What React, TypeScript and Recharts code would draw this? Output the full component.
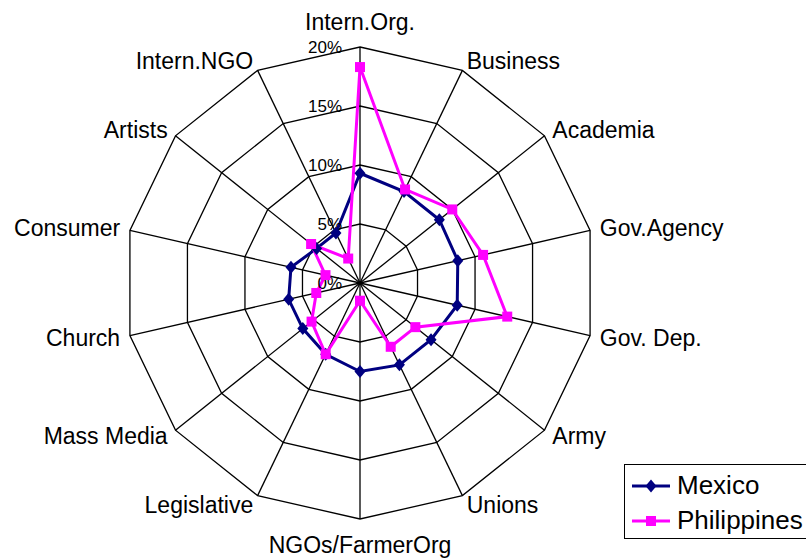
import { Legend, PolarAngleAxis, PolarGrid, PolarRadiusAxis, Radar, RadarChart } from 'recharts';

const categories = [
	'Intern.Org.',
	'Business',
	'Academia',
	'Gov.Agency',
	'Gov. Dep.',
	'Army',
	'Unions',
	'NGOs/FarmerOrg',
	'Legislative',
	'Mass Media',
	'Church',
	'Consumer',
	'Artists',
	'Intern.NGO',
];
const mexico = [0.093, 0.086, 0.086, 0.085, 0.0845, 0.077, 0.077, 0.075, 0.067, 0.062, 0.062, 0.06, 0.047, 0.047];
const philippines = [0.183, 0.088, 0.1, 0.107, 0.128, 0.06, 0.06, 0.015, 0.067, 0.0525, 0.038, 0.03, 0.053, 0.023];
const radiusTicks = [0, 0.05, 0.1, 0.15, 0.2];

const CX = 360;
const CY = 283;
const R = 236;
const FONT = 'Liberation Sans, Arial, sans-serif';

const data = categories.map((name, i) => ({ name, Mexico: mexico[i], Philippines: philippines[i] }));

const Diamond = ({ cx, cy, color }: any) => (
	<polygon points={`${cx},${cy - 6.5} ${cx + 5.5},${cy} ${cx},${cy + 6.5} ${cx - 5.5},${cy}`} fill={color} />
);
const Square = ({ cx, cy, color }: any) => <rect x={cx - 5} y={cy - 5} width={10} height={10} fill={color} />;

const series = [
	{ key: 'Mexico', color: '#000080', Marker: Diamond },
	{ key: 'Philippines', color: '#FF00FF', Marker: Square },
];

// category labels sit just outside the outer polygon
const AngleTick = (props: any) => {
	const { x, y, payload } = props;
	const dx = x - CX;
	const dy = y - CY;
	const len = Math.sqrt(dx * dx + dy * dy) || 1;
	const ux = dx / len;
	const uy = dy / len;
	const px = CX + ux * (R + 10);
	const py = CY + uy * (R + 10);
	let anchor: 'start' | 'end' | 'middle' = 'middle';
	if (ux > 0.05) anchor = 'start';
	else if (ux < -0.05) anchor = 'end';
	let baseline = py + 8;
	if (anchor === 'middle') baseline = uy < 0 ? CY - R - 17 : CY + R + 34;
	return (
		<text x={px} y={baseline} textAnchor={anchor} fontSize={23} fontFamily={FONT} fill="#000">
			{payload.value}
		</text>
	);
};

const RadiusTick = (props: any) => {
	const { x, y, payload } = props;
	return (
		<text x={x - 18} y={y} textAnchor="end" dominantBaseline="central" fontSize={17} fontFamily={FONT} fill="#000">
			{Math.round(payload.value * 100)}%
		</text>
	);
};

const LegendBox = () => (
	<div
		style={{
			border: '1.5px solid #000',
			background: '#fff',
			width: 200,
			height: 75,
			boxSizing: 'border-box',
			fontFamily: FONT,
			fontSize: 26,
			paddingTop: 3,
		}}
	>
		{series.map((s) => (
			<div key={s.key} style={{ display: 'flex', alignItems: 'center', height: 35 }}>
				<svg width={52} height={20} style={{ flex: 'none' }}>
					<line x1={7} y1={10} x2={45} y2={10} stroke={s.color} strokeWidth={3} />
					<s.Marker cx={26} cy={10} color={s.color} />
				</svg>
				<span style={{ whiteSpace: 'nowrap' }}>{s.key}</span>
			</div>
		))}
	</div>
);

export default function App() {
	return (
		<div style={{ position: 'absolute', left: 0, top: 0, width: 806, height: 558, overflow: 'hidden', background: '#fff' }}>
			<RadarChart width={806} height={558} data={data} cx={CX} cy={CY} outerRadius={R} margin={{ top: 0, right: 0, bottom: 0, left: 0 }}>
				<PolarGrid gridType="polygon" stroke="#000" strokeWidth={1.3} />
				<PolarAngleAxis dataKey="name" tick={<AngleTick />} tickLine={false} axisLine={false} />
				<PolarRadiusAxis
					angle={90}
					domain={[0, 0.2]}
					ticks={radiusTicks}
					tick={<RadiusTick />}
					axisLine={false}
					tickLine={false}
				/>
				{series.map((s) => (
					<Radar
						key={s.key}
						name={s.key}
						dataKey={s.key}
						stroke={s.color}
						strokeWidth={3}
						fill="none"
						fillOpacity={0}
						isAnimationActive={false}
						dot={(p: any) => <s.Marker key={`${s.key}-${p.index}`} cx={p.cx} cy={p.cy} color={s.color} />}
					/>
				))}
				<Legend content={<LegendBox />} wrapperStyle={{ left: 624, top: 464, width: 200, bottom: 'auto', right: 'auto' }} />
			</RadarChart>
		</div>
	);
}
